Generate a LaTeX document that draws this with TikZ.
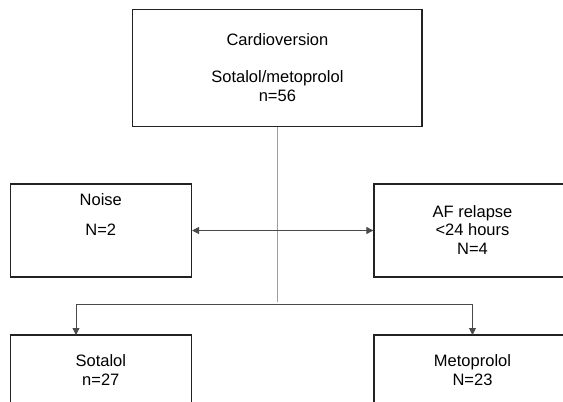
\documentclass[tikz,border=0pt]{standalone}
\usepackage{fontspec}
\setmainfont{Liberation Sans}
\usetikzlibrary{arrows.meta}

\definecolor{boxline}{HTML}{222222}
\definecolor{trunk}{HTML}{9E9E9E}
\definecolor{linkline}{HTML}{4A4A4A}

\begin{document}
\begin{tikzpicture}[x=1pt,y=-1pt]
\useasboundingbox (0,0) rectangle (563,402);
\begin{scope}
\tikzstyle{every node}=[inner sep=0pt];
\tikzstyle{box}=[draw=boxline, line width=1.3pt, shape=rectangle];
\tikzstyle{txt}=[anchor=base, align=center, font=\fontsize{16.5}{18.5}\selectfont];
\tikzstyle{link}=[draw=linkline, line width=0.9pt, -{Triangle[length=7pt,width=7pt]}];

% boxes
\draw (277.4,68) node[box, minimum width=289.3, minimum height=117.4] (cv) {};
\draw (101.1,230.5) node[box, minimum width=180.6, minimum height=93] (noise) {};
\draw (472.5,230.5) node[box, minimum width=197, minimum height=93] (relapse) {};
\draw (101.1,387.5) node[box, minimum width=180.6, minimum height=105] (sot) {};
\draw (472.5,387.5) node[box, minimum width=197, minimum height=105] (meto) {};

% texts (anchored on the baseline of the last line)
\draw (277.4,101.2) node[txt] (cvtxt) {Cardioversion\\ \\Sotalol/metoprolol\\n=56};
\draw (100.8,235.7) node[txt] (noisetxt) {Noise\\[11.5pt]N=2};
\draw (472.5,254.4) node[txt] (relapsetxt) {AF relapse\\<24 hours\\N=4};
\draw (100.8,385) node[txt] (sottxt) {Sotalol\\n=27};
\draw (472.5,385) node[txt] (metotxt) {Metoprolol\\N=23};

% connectors
\coordinate (split) at (277.7,304);
\coordinate (sotin) at (76,335);
\coordinate (metoin) at (472.5,335);
\draw[draw=trunk, line width=1pt] (cv.south -| split) -- ([yshift=2pt]split);
\draw[link, {Triangle[length=7pt,width=7pt]}-{Triangle[length=7pt,width=7pt]}] (noise.east) -- (relapse.west);
\draw[link] (split) -| (sotin);
\draw[link] (split) -| (metoin);

\end{scope}
\end{tikzpicture}
\end{document}
